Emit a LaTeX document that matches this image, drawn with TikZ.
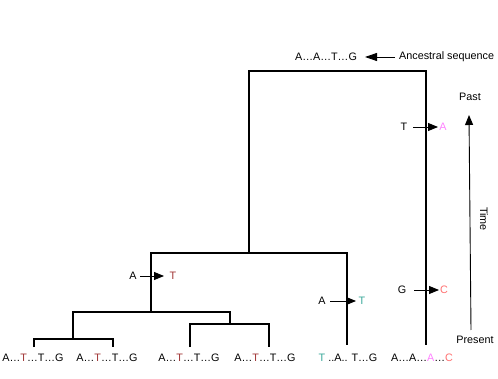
\documentclass[tikz,border=0pt]{standalone}
\usepackage{fontspec}
\setmainfont{Liberation Sans}
\usetikzlibrary{arrows.meta}
\definecolor{tred}{HTML}{A03535}
\definecolor{tteal}{HTML}{3AA89A}
\definecolor{tpink}{HTML}{FF80FF}
\definecolor{tsalmon}{HTML}{FF7070}
\begin{document}
\begin{tikzpicture}[x=1pt,y=-1pt,
  every node/.style={font=\fontsize{10.8}{12}\selectfont, inner sep=0pt, anchor=center},
  branch/.style={line width=1.3pt, black},
  mut/.style={line width=0.9pt, -{Triangle[length=10pt,width=8pt]}},
  seq/.style={text height=8pt, text depth=0pt}]
\useasboundingbox (0,0) rectangle (498,379);
% leaves
\node[seq] (l1) at (33,357) {A…\textcolor{tred}{T}…T…G};
\node[seq] (l2) at (107,357) {A…\textcolor{tred}{T}…T…G};
\node[seq] (l3) at (189,357) {A…\textcolor{tred}{T}…T…G};
\node[seq] (l4) at (265,357) {A…\textcolor{tred}{T}…T…G};
\node[seq] (l5) at (348,357) {\textcolor{tteal}{T} ..A.. T…G};
\node[seq] (l6) at (422,357) {A…A…\textcolor{tpink}{A}…\textcolor{tsalmon}{C}};
% tree coordinates
\coordinate (r) at (249,71);
\coordinate (rR) at (426,71);
\coordinate (n1) at (249,253);
\coordinate (n1L) at (151,253);
\coordinate (n1R) at (347,253);
\coordinate (n2) at (151,312);
\coordinate (n2L) at (73,312);
\coordinate (n2R) at (230,312);
\coordinate (n3) at (73,339);
\coordinate (n3L) at (34,339);
\coordinate (n3R) at (113,339);
\coordinate (n4) at (230,324);
\coordinate (n4L) at (190,324);
\coordinate (n4R) at (269,324);
\coordinate (e1) at (34,347);
\coordinate (e2) at (113,347);
\coordinate (e3) at (190,347);
\coordinate (e4) at (269,347);
\coordinate (e5) at (347,345);
\coordinate (e6) at (426,345);
% branches
\draw[branch] (n1) -- (r) -- (rR) -- (e6);
\draw[branch] (n2) -- (n1L) -- (n1R) -- (e5);
\draw[branch] (n3) -- (n2L) -- (n2R) -- (n4);
\draw[branch] (e1) -- (n3L) -- (n3R) -- (e2);
\draw[branch] (e3) -- (n4L) -- (n4R) -- (e4);
% ancestral
\node (anc) at (326,57) {A…A…T…G};
\node[anchor=west] (anclab) at (399,57) {Ancestral sequence};
\coordinate (ancT) at (395,57);
\coordinate (ancH) at (365,57);
\draw[mut, -{Triangle[length=12pt,width=8pt]}] (ancT) -- (ancH);
% mutations
\node (m1a) at (133,276) {A};
\node[text=tred] (m1b) at (173,276) {T};
\coordinate (m1s) at (140,276);
\coordinate (m1e) at (164,276);
\draw[mut] (m1s) -- (m1e);
\node (m2a) at (322,301) {A};
\node[text=tteal] (m2b) at (362,301) {T};
\coordinate (m2s) at (330,301);
\coordinate (m2e) at (356,301);
\draw[mut] (m2s) -- (m2e);
\node (m3a) at (402,290) {G};
\node[text=tsalmon] (m3b) at (444,290) {C};
\coordinate (m3s) at (414,290);
\coordinate (m3e) at (439,290);
\draw[mut] (m3s) -- (m3e);
\node (m4a) at (404,127) {T};
\node[text=tpink] (m4b) at (443,127) {A};
\coordinate (m4s) at (413,127);
\coordinate (m4e) at (438,127);
\draw[mut] (m4s) -- (m4e);
% time
\node (past) at (470,97) {Past};
\node (present) at (475,340) {Present};
\coordinate (tb) at (471,330);
\coordinate (tt) at (469,115);
\draw[mut] (tb) -- (tt);
\node[rotate=-90] (time) at (484,219) {Time};
\end{tikzpicture}
\end{document}
